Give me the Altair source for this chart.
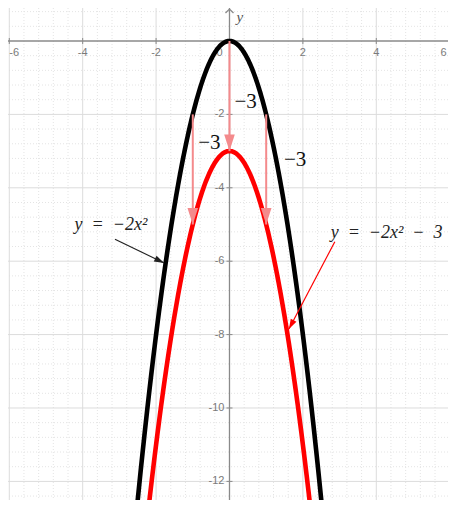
import math
import numpy as np
import pandas as pd
import altair as alt

# ---------------- data ----------------
X_DOMAIN = [-6.035, 5.954]
Y_DOMAIN = [-12.507, 0.899]

# parabolas y = a*x^2 + c
parab_names = ["y = -2x^2", "y = -2x^2 - 3"]
parab_a = [-2, -2]
parab_c = [0, -3]
parab_colors = ["#000000", "#ff0000"]
x_sample = np.linspace(-2.8, 2.8, 281)

# vertical shift arrows (-3)
shift_x = [-1, 0, 1]
shift_from = [-2, 0, -2]
shift_by = -3
shift_label_x = [0.44, -0.55, 1.79]
shift_label_y = [-1.65, -2.77, -3.24]
shift_label_text = ["−3", "−3", "−3"]

# equation annotations
ann_text = ["y\u2002=\u2002−2x²", "y\u2002=\u2002−2x²\u2002−\u20023"]
ann_text_x = [-3.23, 4.28]
ann_text_y = [-5.01, -5.24]
ann_from_x = [-3.12, 2.87]
ann_from_y = [-5.40, -5.47]
ann_to_x = [-1.78, 1.62]
ann_to_y = [-6.05, -7.85]
ann_colors = ["#222222", "#ff0000"]

# axes ticks / grid
x_tick_vals = [-6, -4, -2, 2, 4, 6]
x_tick_align = ["left", "center", "center", "center", "center", "right"]
x_tick_dx = [0, 0, 0, 0, 0, -3]
y_tick_vals = [-2, -4, -6, -8, -10, -12]
major_x = [-6, -4, -2, 2, 4, 6]
major_y = [-12, -10, -8, -6, -4, -2]
minor_x = [v for v in np.round(np.arange(-6.0, 6.01, 0.4), 2) if abs(v / 2 - round(v / 2)) > 1e-6]
minor_y = [v for v in np.round(np.arange(-12.4, 0.81, 0.4), 2) if abs(v / 2 - round(v / 2)) > 1e-6]

# ---------------- helpers ----------------
SERIF = "'Liberation Serif', 'DejaVu Serif', serif"
SANS = "'Liberation Sans', Arial, sans-serif"
xs = alt.Scale(domain=X_DOMAIN, nice=False, zero=False)
ys = alt.Scale(domain=Y_DOMAIN, nice=False, zero=False)
X = lambda f="x": alt.X(f"{f}:Q", scale=xs, axis=None)
Y = lambda f="y": alt.Y(f"{f}:Q", scale=ys, axis=None)

ARROW = "M-0.32,1L0.32,1L0,0Z"  # tip at origin, pointing up

layers = []

# grid
layers.append(alt.Chart(pd.DataFrame({"x": minor_x})).mark_rule(
    color="#e4e4e4", strokeWidth=1, strokeDash=[1, 2]).encode(x=X()))
layers.append(alt.Chart(pd.DataFrame({"y": minor_y})).mark_rule(
    color="#e4e4e4", strokeWidth=1, strokeDash=[1, 2]).encode(y=Y()))
layers.append(alt.Chart(pd.DataFrame({"x": major_x})).mark_rule(
    color="#dcdcdc", strokeWidth=1).encode(x=X()))
layers.append(alt.Chart(pd.DataFrame({"y": major_y})).mark_rule(
    color="#dcdcdc", strokeWidth=1).encode(y=Y()))

# axes
axis_col = "#8a8a8a"
layers.append(alt.Chart(pd.DataFrame({"x": [0]})).mark_rule(
    color=axis_col, strokeWidth=1.3).encode(x=X()))
layers.append(alt.Chart(pd.DataFrame({"y": [0]})).mark_rule(
    color=axis_col, strokeWidth=1.3).encode(y=Y()))
layers.append(alt.Chart(pd.DataFrame({"x": [0], "y": [0.87]})).mark_point(
    shape="M-1,1L0,0L1,1", size=64, filled=False, color=axis_col, strokeWidth=1.3, opacity=1
).encode(x=X(), y=Y()))
layers.append(alt.Chart(pd.DataFrame({"x": [0.28], "y": [0.66], "t": ["y"]})).mark_text(
    font=SERIF, fontStyle="italic", fontSize=15, color="#555555", align="center", baseline="middle"
).encode(x=X(), y=Y(), text="t:N"))

# ticks
layers.append(alt.Chart(pd.DataFrame({"x": x_tick_vals, "y": [0] * len(x_tick_vals)})).mark_point(
    shape="M0,-1L0,1", size=36, filled=False, color=axis_col, strokeWidth=1, opacity=1
).encode(x=X(), y=Y()))
layers.append(alt.Chart(pd.DataFrame({"x": [0] * len(y_tick_vals), "y": y_tick_vals})).mark_point(
    shape="M-1,0L1,0", size=36, filled=False, color=axis_col, strokeWidth=1, opacity=1
).encode(x=X(), y=Y()))

# tick labels
lab_col = "#7a7a7a"
for v, al, ddx in zip(x_tick_vals, x_tick_align, x_tick_dx):
    layers.append(alt.Chart(pd.DataFrame({"x": [v], "y": [0], "t": [str(v)]})).mark_text(
        font=SANS, fontSize=11, color=lab_col, align=al, baseline="middle", dy=12, dx=ddx
    ).encode(x=X(), y=Y(), text="t:N"))
layers.append(alt.Chart(pd.DataFrame({"x": [0] * len(y_tick_vals), "y": y_tick_vals,
                                      "t": [str(v) for v in y_tick_vals]})).mark_text(
    font=SANS, fontSize=11, color=lab_col, align="right", baseline="middle", dx=-5
).encode(x=X(), y=Y(), text="t:N"))
layers.append(alt.Chart(pd.DataFrame({"x": [0], "y": [0], "t": ["0"]})).mark_text(
    font=SANS, fontSize=11, color=lab_col, align="center", baseline="middle", dx=-10, dy=12
).encode(x=X(), y=Y(), text="t:N"))

# parabolas
for name, a, c, col in zip(parab_names, parab_a, parab_c, parab_colors):
    df = pd.DataFrame({"x": x_sample, "y": a * x_sample ** 2 + c})
    layers.append(alt.Chart(df).mark_line(color=col, strokeWidth=4.6, clip=True).encode(
        x=X(), y=Y(), order="x:Q"))

# shift arrows
pink = "#f48a8c"
sdf = pd.DataFrame({"x": shift_x, "y": shift_from, "y2": [v + shift_by for v in shift_from]})
layers.append(alt.Chart(sdf).mark_rule(color=pink, strokeWidth=2).encode(
    x=X(), y=Y(), y2="y2:Q"))
layers.append(alt.Chart(sdf).mark_point(
    shape=ARROW, size=1100, filled=True, color=pink, angle=180, opacity=1, strokeWidth=0
).encode(x=X(), y=Y("y2")))
layers.append(alt.Chart(pd.DataFrame({"x": shift_label_x, "y": shift_label_y, "t": shift_label_text})).mark_text(
    font=SERIF, fontSize=21, color="#111111", align="center", baseline="middle"
).encode(x=X(), y=Y(), text="t:N"))

# equation annotations
for i in range(len(ann_text)):
    dx = ann_to_x[i] - ann_from_x[i]
    dy = ann_to_y[i] - ann_from_y[i]
    ang = (math.degrees(math.atan2(dx, dy)) + 360) % 360
    adf = pd.DataFrame({"x": [ann_from_x[i]], "y": [ann_from_y[i]],
                        "x2": [ann_to_x[i]], "y2": [ann_to_y[i]]})
    layers.append(alt.Chart(adf).mark_rule(color=ann_colors[i], strokeWidth=1.2).encode(
        x=X(), y=Y(), x2="x2:Q", y2="y2:Q"))
    layers.append(alt.Chart(adf).mark_point(
        shape=ARROW, size=400, filled=True, color=ann_colors[i], angle=ang, opacity=1, strokeWidth=0
    ).encode(x=X("x2"), y=Y("y2")))
    layers.append(alt.Chart(pd.DataFrame({"x": [ann_text_x[i]], "y": [ann_text_y[i]], "t": [ann_text[i]]})).mark_text(
        font=SERIF, fontStyle="italic", fontSize=18, color="#222222", align="center", baseline="middle"
    ).encode(x=X(), y=Y(), text="t:N"))

chart = alt.layer(*layers).properties(
    width=440, height=492, padding=0, autosize=alt.AutoSizeParams(type="none"), background="white"
).configure_view(stroke=None)

chart.save("out.html", embed_options={"renderer": "svg", "actions": False})
